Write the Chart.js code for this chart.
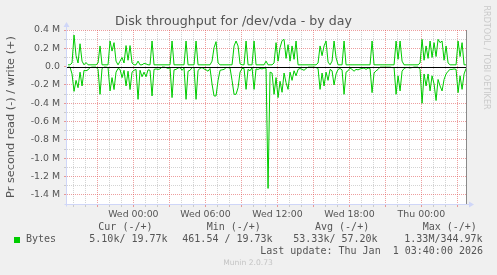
<!DOCTYPE html>
<html><head><meta charset="utf-8">
<script src="https://cdn.jsdelivr.net/npm/chart.js@4/dist/chart.umd.min.js"></script>
<style>html,body{margin:0;padding:0;background:#F0F0F0;}canvas{display:block;}</style>
</head><body>
<canvas id="c" width="497" height="275"></canvas>
<script>
// ---- data ----
const TITLE = 'Disk throughput for /dev/vda - by day';
const Y_TITLE = 'Pr second read (-) / write (+)';
const SERIES_NAME = 'Bytes';
// samples every 10 min, first sample at Tue 18:33 (hours relative to Wed 00:00)
const startHour = -5.444;
const stepHour = 1 / 6;
// write (+) in kB/s
const writeK = [
  20,20,40,345,120,40,250,60,20,45,
  20,20,20,20,20,40,226,20,20,20,
  20,280,170,262,60,20,60,100,40,230,
  70,230,40,20,20,60,20,20,35,30,
  20,20,280,20,20,20,20,20,20,20,
  20,20,280,20,20,20,20,20,20,280,
  20,20,20,20,280,20,20,20,20,20,
  20,20,60,207,273,40,20,20,20,20,
  20,20,20,226,280,226,30,20,20,280,
  20,20,20,280,20,20,20,20,20,60,
  20,20,20,40,262,60,207,284,298,90,
  240,60,226,80,280,20,20,20,20,20,
  20,20,20,20,20,40,226,120,226,280,
  50,20,60,280,100,20,20,20,280,20,
  20,20,20,20,20,20,20,20,20,20,
  20,20,280,20,20,20,20,20,20,20,
  20,20,20,20,280,80,280,60,20,20,
  20,20,20,20,20,20,40,298,70,226,
  90,280,100,262,110,298,262,280,70,226,
  40,20,20,20,20,280,110,262,20,20
];
// read (-) in kB/s (magnitudes)
const readK = [
  5,5,80,270,150,230,60,211,40,45,
  35,10,5,5,5,30,302,20,5,5,
  10,265,120,250,60,20,30,120,40,211,
  50,250,60,40,30,357,40,110,60,110,
  35,40,320,30,25,30,25,5,5,10,
  20,10,338,35,30,15,10,40,15,357,
  50,40,10,10,357,40,20,10,25,35,
  50,20,190,320,320,150,40,35,30,10,
  10,15,150,302,302,230,60,20,20,248,
  30,45,10,248,25,30,20,25,15,20,
  1330,60,70,302,120,338,160,280,70,175,
  248,60,150,45,100,30,20,30,40,20,
  5,5,5,5,10,20,248,70,211,60,
  150,30,45,200,80,30,20,35,302,60,
  45,15,30,50,30,35,25,20,15,30,
  15,20,284,70,45,30,5,5,5,5,
  5,5,10,10,302,100,265,50,20,10,
  10,15,10,5,5,5,30,400,80,211,
  80,265,100,190,370,140,211,265,140,80,
  50,30,30,25,30,284,100,248,80,20
];
const xTickHours = [0, 6, 12, 18, 24];
const xTickLabels = ['Wed 00:00', 'Wed 06:00', 'Wed 12:00', 'Wed 18:00', 'Thu 00:00'];
const yLabelValues = [400, 200, 0, -200, -400, -600, -800, -1000, -1200, -1400];
const yLabels = ['0.4 M', '0.2 M', '0.0', '-0.2 M', '-0.4 M', '-0.6 M', '-0.8 M', '-1.0 M', '-1.2 M', '-1.4 M'];
const legendHeaders = ['Cur (-/+)', 'Min (-/+)', 'Avg (-/+)', 'Max (-/+)'];
const legendValues = ['5.10k/ 19.77k', '461.54 / 19.73k', '53.33k/ 57.20k', '1.33M/344.97k'];
const LAST_UPDATE = 'Last update: Thu Jan  1 03:40:00 2026';
const FOOTER = 'Munin 2.0.73';
const WATERMARK = 'RRDTOOL / TOBI OETIKER';

// ---- layout / style ----
const GREEN = '#00CC00';
const TEXT = '#555555';
const MINOR = 'rgba(150,150,150,0.42)';
const MAJOR = 'rgba(222,79,79,0.55)';
const AXIS = '#CFD6F8';
const headerX = [98.3, 206.7, 315, 422.7];
const valueX = [89.3, 182.3, 293.3, 404.3];

const writePts = writeK.map((v, i) => ({x: startHour + i * stepHour, y: v}));
const readPts = readK.map((v, i) => ({x: startHour + i * stepHour, y: -v}));

const decor = {
  id: 'decor',
  beforeDraw(chart) {
    const {ctx, chartArea: a} = chart;
    ctx.save();
    ctx.fillStyle = '#F0F0F0';
    ctx.fillRect(0, 0, chart.width, chart.height);
    ctx.fillStyle = '#FFFFFF';
    ctx.fillRect(a.left, a.top, a.right - a.left, a.bottom - a.top);
    ctx.restore();
  },
  afterDatasetsDraw(chart) {
    const {ctx, chartArea: a, scales: {y}} = chart;
    const y0 = Math.round(y.getPixelForValue(0)) + 0.5;
    ctx.save();
    ctx.lineWidth = 1;
    ctx.strokeStyle = '#000000';
    ctx.beginPath(); ctx.moveTo(a.left, y0); ctx.lineTo(a.right, y0); ctx.stroke();
    ctx.strokeStyle = '#8a8a8a';
    ctx.beginPath(); ctx.moveTo(a.right - 0.5, a.top); ctx.lineTo(a.right - 0.5, a.bottom); ctx.stroke();
    ctx.restore();
  },
  afterDraw(chart) {
    const {ctx, chartArea: a} = chart;
    ctx.save();
    // axes with arrows
    ctx.strokeStyle = AXIS; ctx.fillStyle = AXIS; ctx.lineWidth = 1;
    const ax = Math.round(a.left) - 0.5, ay = Math.round(a.bottom) + 0.5;
    ctx.beginPath(); ctx.moveTo(ax, ay + 2); ctx.lineTo(ax, a.top - 4); ctx.stroke();
    ctx.beginPath(); ctx.moveTo(ax - 3, a.top - 3); ctx.lineTo(ax + 3, a.top - 3); ctx.lineTo(ax, a.top - 8); ctx.closePath(); ctx.fill();
    ctx.beginPath(); ctx.moveTo(ax - 2, ay); ctx.lineTo(a.right + 3, ay); ctx.stroke();
    ctx.beginPath(); ctx.moveTo(a.right + 2, ay - 3); ctx.lineTo(a.right + 2, ay + 3); ctx.lineTo(a.right + 7, ay); ctx.closePath(); ctx.fill();
    // legend
    ctx.fillStyle = GREEN;
    ctx.fillRect(14, 237, 6, 6);
    ctx.fillStyle = TEXT;
    ctx.font = '10px "DejaVu Sans Mono"';
    ctx.textBaseline = 'middle';
    ctx.textAlign = 'left';
    legendHeaders.forEach((t, i) => ctx.fillText(t, headerX[i], 227));
    ctx.fillText(SERIES_NAME, 26, 239.5);
    legendValues.forEach((t, i) => ctx.fillText(t, valueX[i], 239.5));
    ctx.textAlign = 'right';
    ctx.fillText(LAST_UPDATE, 483, 251.5);
    // footer
    ctx.textAlign = 'center';
    ctx.fillStyle = '#c4c4c4';
    ctx.font = '7.6px "DejaVu Sans"';
    ctx.fillText(FOOTER, 248, 263.5);
    // watermark
    ctx.fillStyle = '#cacaca';
    ctx.font = '8.1px "DejaVu Sans"';
    ctx.translate(486.5, 57.5);
    ctx.rotate(Math.PI / 2);
    ctx.fillText(WATERMARK, 0, 0);
    ctx.restore();
  }
};

new Chart(document.getElementById('c'), {
  type: 'line',
  data: {
    datasets: [
      {label: SERIES_NAME + ' read', data: readPts, borderColor: GREEN, borderWidth: 1, pointRadius: 0, tension: 0, fill: false},
      {label: SERIES_NAME + ' write', data: writePts, borderColor: GREEN, borderWidth: 1, pointRadius: 0, tension: 0, fill: false}
    ]
  },
  options: {
    responsive: false,
    animation: false,
    devicePixelRatio: 1,
    layout: {padding: {top: 0, left: 0, right: 30, bottom: 51}},
    plugins: {
      legend: {display: false},
      tooltip: {enabled: false},
      title: {
        display: true, text: TITLE, color: TEXT,
        font: {family: 'DejaVu Sans', size: 12.6, weight: 'normal'},
        padding: {top: 14.3, bottom: 0.6}
      }
    },
    scales: {
      x: {
        type: 'linear', min: -5.53, max: 27.8,
        afterBuildTicks: s => { const t = []; for (let h = -5; h <= 27; h++) t.push({value: h}); s.ticks = t; },
        afterFit: s => { s.height = 20; },
        border: {display: false, dash: [1, 1]},
        grid: {
          color: c => (c.tick && ((c.tick.value % 3) + 3) % 3 === 0) ? MAJOR : MINOR,
          tickColor: c => (c.tick && ((c.tick.value % 3) + 3) % 3 === 0) ? MAJOR : MINOR,
          lineWidth: 1, tickLength: 3
        },
        ticks: {
          autoSkip: false, maxRotation: 0, minRotation: 0, padding: 2, color: TEXT,
          font: {family: 'DejaVu Sans', size: 9.4},
          callback: v => { const i = xTickHours.indexOf(v); return i >= 0 ? xTickLabels[i] : ''; }
        }
      },
      y: {
        type: 'linear', min: -1500, max: 400,
        afterBuildTicks: s => { const t = []; for (let v = 400; v >= -1500; v -= 100) t.push({value: v}); s.ticks = t; },
        afterFit: s => { s.width = 67; },
        border: {display: false, dash: [1, 1]},
        grid: {
          color: c => {
            const v = c.tick ? c.tick.value : 1;
            if (v === 0 || v === -1500) return 'rgba(0,0,0,0)';
            return (v % 200 === 0) ? MAJOR : MINOR;
          },
          tickColor: c => {
            const v = c.tick ? c.tick.value : 1;
            if (v === -1500) return 'rgba(0,0,0,0)';
            return (v % 200 === 0) ? MAJOR : MINOR;
          },
          lineWidth: 1, tickLength: 3
        },
        ticks: {
          autoSkip: false, padding: 4, color: TEXT,
          font: {family: 'DejaVu Sans', size: 9.4},
          callback: v => { const i = yLabelValues.indexOf(v); return i >= 0 ? yLabels[i] : ''; }
        },
        title: {
          display: true, text: Y_TITLE, color: TEXT,
          font: {family: 'DejaVu Sans', size: 11.3},
          padding: {top: 4, bottom: 0}
        }
      }
    }
  },
  plugins: [decor]
});
</script>
</body></html>
